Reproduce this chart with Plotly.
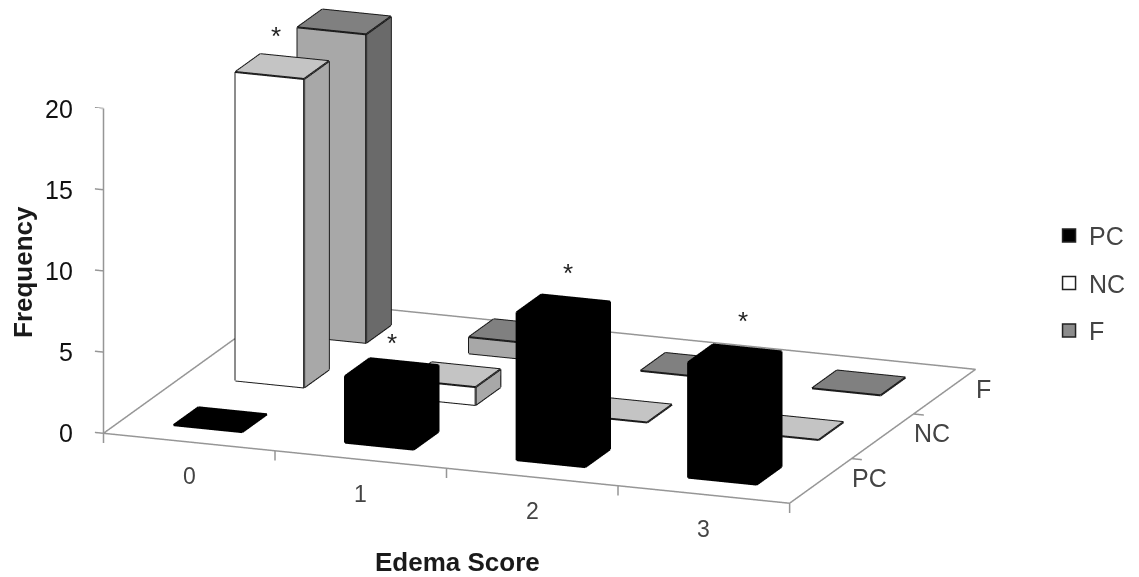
import plotly.graph_objects as go

scores = ["0", "1", "2", "3"]
groups = ["PC", "NC", "F"]
pc_values = [0, 4.1, 9.1, 7.1]
nc_values = [19.0, 1.1, 0, 0]
f_values = [19.0, 1.0, 0, 0]
starred = [("NC", 0, 19.0), ("PC", 1, 4.1), ("PC", 2, 9.1), ("PC", 3, 7.1)]
star_nudges = [(-6, 31), (0, 28), (5, 34), (8, 36)]
frequency_ticks = [0, 5, 10, 15, 20]

SERIES = [
    ("PC", pc_values, ("#000000", "#000000", "#000000"), "#000000"),
    ("NC", nc_values, ("#ffffff", "#c4c4c4", "#a8a8a8"), "#1a1a1a"),
    ("F", f_values, ("#a8a8a8", "#808080", "#6a6a6a"), "#1a1a1a"),
]
LEG = {"PC": "#000000", "NC": "#ffffff", "F": "#8c8c8c"}
HW, HD = 0.2, 0.2
FACES = [((0, 1, 5), 0), ((0, 5, 4), 0), ((4, 5, 6), 1), ((4, 6, 7), 1), ((1, 2, 6), 2), ((1, 6, 5), 2),
         ((3, 7, 6), 2), ((3, 6, 2), 2), ((0, 4, 7), 2), ((0, 7, 3), 2)]
EDGES = [(0, 1), (1, 2), (2, 3), (3, 0), (4, 5), (5, 6), (6, 7), (7, 4), (0, 4), (1, 5), (2, 6), (3, 7)]
AXC = "#969696"

fig = go.Figure()
for sj, (name, vals, cols, edge) in enumerate(SERIES):
    X, Y, Z, I, J, K, FC, LX, LY, LZ = [], [], [], [], [], [], [], [], [], []
    for si, h in enumerate(vals):
        base = len(X)
        for zz in (0, h):
            for dx, dy in ((-HW, -HD), (HW, -HD), (HW, HD), (-HW, HD)):
                X.append(si + dx); Y.append(sj + dy); Z.append(zz)
        faces = FACES if h > 0 else FACES[2:4]
        for (a, b, c), col in faces:
            I.append(base + a); J.append(base + b); K.append(base + c); FC.append(cols[col])
        for a, b in EDGES:
            if h == 0 and (a < 4 or b < 4):
                continue
            LX += [X[base + a], X[base + b], None]
            LY += [Y[base + a], Y[base + b], None]
            LZ += [Z[base + a], Z[base + b], None]
    fig.add_trace(go.Mesh3d(x=X, y=Y, z=Z, i=I, j=J, k=K, facecolor=FC, flatshading=True,
                            lighting=dict(ambient=1, diffuse=0, specular=0, fresnel=0, roughness=1),
                            hoverinfo="skip", showlegend=False))
    fig.add_trace(go.Scatter3d(x=LX, y=LY, z=LZ, mode="lines", line=dict(color=edge, width=4),
                               hoverinfo="skip", showlegend=False))
    fig.add_trace(go.Scatter3d(x=[None], y=[None], z=[None], mode="markers", name=name, legendgroup=name,
                               marker=dict(symbol="square", size=13, color=LEG[name],
                                           line=dict(color="#222222", width=1.5))))

# floor outline, value axis and tick marks
fig.add_trace(go.Scatter3d(
    x=[-0.5, 3.5, 3.5, -0.5, -0.5], y=[-0.5, -0.5, 2.5, 2.5, -0.5], z=[0] * 5,
    mode="lines", line=dict(color=AXC, width=3), hoverinfo="skip", showlegend=False))
tx, ty, tz = [-0.5, -0.5, None], [-0.5, -0.5, None], [-0.6, 20, None]
for b in [0.5, 1.5, 2.5, 3.5]:
    tx += [b, b, None]; ty += [-0.5, -0.5, None]; tz += [0, -0.6, None]
for b in [0.5, 1.5]:
    tx += [3.5, 3.56, None]; ty += [b, b, None]; tz += [0, 0, None]
for v in frequency_ticks:
    tx += [-0.5, -0.55, None]; ty += [-0.5, -0.5, None]; tz += [v, v, None]
fig.add_trace(go.Scatter3d(x=tx, y=ty, z=tz, mode="lines", line=dict(color=AXC, width=3),
                           hoverinfo="skip", showlegend=False))

annots = []
for i, s in enumerate(scores):
    annots.append(dict(x=i, y=-0.5, z=0, text=s, showarrow=False, yshift=-34,
                       font=dict(size=23, color="#444444")))
for j, g in enumerate(groups):
    annots.append(dict(x=3.5, y=j, z=0, text=g, showarrow=False, xanchor="left", xshift=29, yshift=3,
                       font=dict(size=25, color="#444444")))
for v in frequency_ticks:
    annots.append(dict(x=-0.5, y=-0.5, z=v, text=str(v), showarrow=False, xanchor="right", xshift=-29,
                       font=dict(size=25, color="#111111")))
for (g, i, v), (dx, dy) in zip(starred, star_nudges):
    annots.append(dict(x=i, y=groups.index(g), z=v, text="*", showarrow=False, xshift=dx, yshift=dy,
                       font=dict(size=26, color="#222222")))

r = 2.95
lift = -0.178
k = 0.915
eye = dict(x=0.339 * r, y=-0.901 * r, z=0.271 * r + lift)
fig.update_layout(
    width=1139, height=577, margin=dict(l=0, r=0, t=0, b=0, autoexpand=False), paper_bgcolor="white",
    font=dict(family="Liberation Sans", color="#222222"),
    legend=dict(x=0.914, y=0.645, xanchor="left", yanchor="top", font=dict(size=25, color="#444444"),
                tracegroupgap=12, bgcolor="rgba(0,0,0,0)"),
    scene=dict(
        domain=dict(x=[0, 0.9335], y=[0, 1]),
        aspectmode="manual",
        aspectratio=dict(x=k * 2.777 * 4.4 / 4, y=k * 2.0 * 3.4 / 3, z=k * 1.278 * 21 / 20),
        camera=dict(eye=eye, center=dict(x=0, y=0, z=lift), projection=dict(type="orthographic")),
        xaxis=dict(visible=False, range=[-0.7, 3.7]),
        yaxis=dict(visible=False, range=[-0.7, 2.7]),
        zaxis=dict(visible=False, range=[-1, 20]),
        annotations=annots,
    ),
    annotations=[
        dict(text="<b>Frequency</b>", x=15 / 1139, y=1 - 264 / 577, xref="paper", yref="paper", textangle=-90,
             xanchor="center", yanchor="middle", showarrow=False, font=dict(size=26, color="#1a1a1a")),
        dict(text="<b>Edema Score</b>", x=449 / 1139, y=1 - 554 / 577, xref="paper", yref="paper",
             xanchor="center", yanchor="middle", showarrow=False, font=dict(size=26, color="#1a1a1a")),
    ],
)
fig.write_html("out.html")
